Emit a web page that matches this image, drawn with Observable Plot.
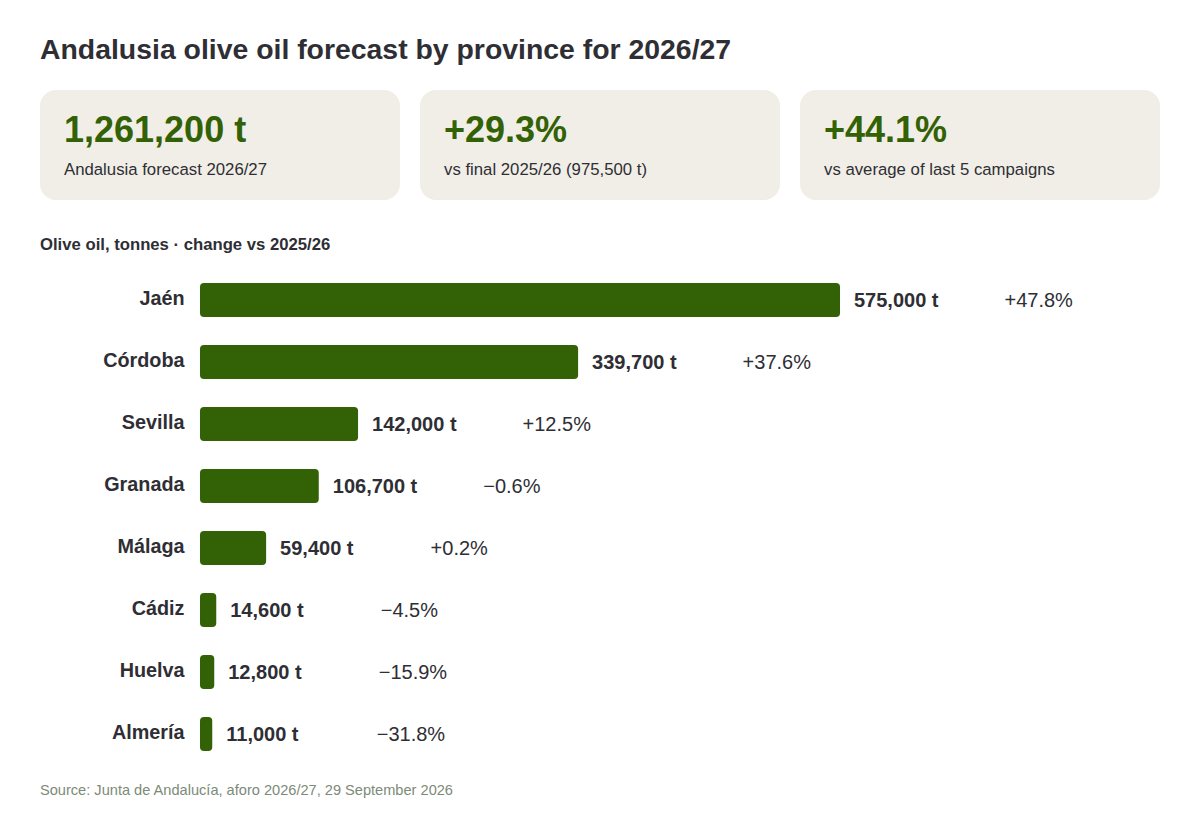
<!DOCTYPE html>
<html>
<head>
<meta charset="utf-8">
<script src="https://cdn.jsdelivr.net/npm/d3@7"></script>
<script src="https://cdn.jsdelivr.net/npm/@observablehq/plot@0.6"></script>
<style>
  html, body { margin: 0; padding: 0; background: #ffffff; }
  body { width: 1200px; height: 820px; position: relative; font-family: "Liberation Sans", Arial, Helvetica, sans-serif; color: #2e2e34; }
  .abs { position: absolute; line-height: 1; white-space: nowrap; }
  #title { left: 40px; top: 35px; font-size: 28.4px; font-weight: bold; color: #2e2e34; }
  .card { position: absolute; top: 90px; width: 360px; height: 110px; background: #f1eee7; border-radius: 16px; }
  .card .big { position: absolute; left: 24px; top: 21.5px; font-size: 36px; font-weight: bold; color: #336105; line-height: 1; white-space: nowrap; }
  .card .lab { position: absolute; left: 24px; top: 71.5px; font-size: 16.75px; color: #2e2e34; line-height: 1; white-space: nowrap; }
  #subtitle { left: 40px; top: 236.5px; font-size: 16.7px; font-weight: bold; color: #2e2e34; }
  #chart { position: absolute; left: 40px; top: 255px; }
  #source { left: 40px; top: 783px; font-size: 14.6px; color: #7d8a78; }
</style>
</head>
<body>
<div id="title" class="abs"></div>
<div id="cards"></div>
<div id="subtitle" class="abs"></div>
<div id="chart"></div>
<div id="source" class="abs"></div>
<script>
const titleText = "Andalusia olive oil forecast by province for 2026/27";
const subtitleText = "Olive oil, tonnes · change vs 2025/26";
const sourceText = "Source: Junta de Andalucía, aforo 2026/27, 29 September 2026";

const cardValues = ["1,261,200 t", "+29.3%", "+44.1%"];
const cardLabels = ["Andalusia forecast 2026/27", "vs final 2025/26 (975,500 t)", "vs average of last 5 campaigns"];

const provinces = ["Jaén", "Córdoba", "Sevilla", "Granada", "Málaga", "Cádiz", "Huelva", "Almería"];
const tonnes = [575000, 339700, 142000, 106700, 59400, 14600, 12800, 11000];
const changePct = [47.8, 37.6, 12.5, -0.6, 0.2, -4.5, -15.9, -31.8];

document.getElementById("title").textContent = titleText;
document.getElementById("subtitle").textContent = subtitleText;
document.getElementById("source").textContent = sourceText;

const cardsEl = document.getElementById("cards");
cardValues.forEach((v, i) => {
  const c = document.createElement("div");
  c.className = "card";
  c.style.left = (40 + i * 380) + "px";
  const b = document.createElement("div"); b.className = "big"; b.textContent = v;
  const l = document.createElement("div"); l.className = "lab"; l.textContent = cardLabels[i];
  c.appendChild(b); c.appendChild(l);
  cardsEl.appendChild(c);
});

const data = provinces.map((p, i) => ({province: p, tonnes: tonnes[i], change: changePct[i]}));
const fmtT = d3.format(",");
const fmtPct = v => (v >= 0 ? "+" : "\u2212") + Math.abs(v).toFixed(1) + "%";

const green = "#336105";
const ink = "#2e2e34";

const chart = Plot.plot({
  width: 1120,
  height: 524,
  marginLeft: 160,
  marginRight: 320,
  marginTop: 0,
  marginBottom: 0,
  style: {fontFamily: "'Liberation Sans', Arial, Helvetica, sans-serif", background: "transparent", overflow: "visible"},
  x: {domain: [0, 575000], axis: null},
  y: {domain: provinces, padding: 28 / 62, axis: null},
  marks: [
    Plot.barX(data, {x: "tonnes", y: "province", fill: green, rx: 4}),
    Plot.text(data, {x: 0, y: "province", text: "province", textAnchor: "end", dx: -16, dy: -1.5, fontWeight: "bold", fontSize: 19.8, fill: ink}),
    Plot.text(data, {x: "tonnes", y: "province", text: d => fmtT(d.tonnes) + " t", textAnchor: "start", dx: 13.5, fontWeight: "bold", fontSize: 20, fill: ink}),
    Plot.text(data, {x: "tonnes", y: "province", text: d => fmtPct(d.change), textAnchor: "start", dx: 164, fontSize: 20, fill: ink})
  ]
});
document.getElementById("chart").appendChild(chart);
</script>
</body>
</html>
